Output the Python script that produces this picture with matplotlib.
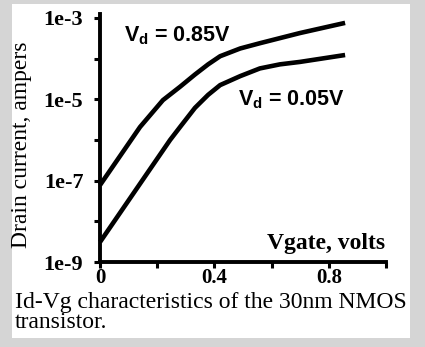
import matplotlib
matplotlib.use("Agg")
import matplotlib.pyplot as plt
from matplotlib.patches import Rectangle
import numpy as np

# Data
vgate_hi = [0.0, 0.140, 0.220, 0.280, 0.332, 0.378, 0.420, 0.490, 0.559, 0.699, 0.857]
id_hi_log = [-7.11, -5.68, -5.02, -4.69, -4.39, -4.14, -3.94, -3.75, -3.62, -3.37, -3.12]
vgate_lo = [0.0, 0.161, 0.245, 0.280, 0.332, 0.378, 0.420, 0.490, 0.559, 0.629, 0.699, 0.857]
id_lo_log = [-8.51, -6.86, -6.00, -5.68, -5.21, -4.89, -4.65, -4.43, -4.24, -4.14, -4.08, -3.91]

ytick_vals = [1e-9, 1e-8, 1e-7, 1e-6, 1e-5, 1e-4, 1e-3]
ytick_labels = ["1e-9", "", "1e-7", "", "1e-5", "", "1e-3"]
xtick_vals = [0.0, 0.2, 0.4, 0.6, 0.8, 1.0]
xtick_labels = ["0", "", "0.4", "", "0.8", ""]

label_hi = r"$\mathbf{V_d}$ = 0.85V"
label_lo = r"$\mathbf{V_d}$ = 0.05V"
caption = "Id-Vg characteristics of the 30nm NMOS\ntransistor."

plt.rcParams["mathtext.fontset"] = "custom"
plt.rcParams["mathtext.bf"] = "Liberation Sans:bold"
plt.rcParams["mathtext.rm"] = "Liberation Sans"

W, H = 425, 347
fig = plt.figure(figsize=(W / 100, H / 100), dpi=100)
fig.patch.set_facecolor("#d5d5d5")
fig.patches.append(Rectangle((12 / W, 1 - 338 / H), (410 - 12) / W, (338 - 4) / H,
                             transform=fig.transFigure, facecolor="white",
                             edgecolor="none", zorder=-5))

ax = fig.add_axes([100 / W, 1 - 262 / H, 286 / W, (262 - 14) / H])
ax.set_zorder(2)
ax.set_facecolor("none")
ax.plot(vgate_hi, 10 ** np.array(id_hi_log), color="black", lw=3.3,
        solid_joinstyle="round", solid_capstyle="butt", clip_on=False)
ax.plot(vgate_lo, 10 ** np.array(id_lo_log), color="black", lw=3.3,
        solid_joinstyle="round", solid_capstyle="butt", clip_on=False)

ax.set_yscale("log")
ax.set_xlim(0, 1.0)
ax.set_ylim(1e-9, 10 ** (-3 + 4 / 40.67))
ax.set_yticks(ytick_vals)
ax.set_yticklabels(ytick_labels)
ax.minorticks_off()
ax.set_xticks(xtick_vals)
ax.set_xticklabels(xtick_labels)

for s in ["top", "right"]:
    ax.spines[s].set_visible(False)
for s in ["left", "bottom"]:
    ax.spines[s].set_linewidth(2.8)

serif = "Liberation Serif"
ax.tick_params(axis="both", direction="out", length=4, width=2.2)
ax.tick_params(axis="y", pad=8)
ax.tick_params(axis="x", pad=0.5)
for lab in ax.get_yticklabels():
    lab.set_fontfamily(serif); lab.set_fontweight("bold"); lab.set_fontsize(16)
for lab in ax.get_xticklabels():
    lab.set_fontfamily(serif); lab.set_fontweight("bold"); lab.set_fontsize(15)

fig.text(22 / W, 1 - 145 / H, "Drain current, ampers", rotation=90, ha="center", va="center",
         fontfamily=serif, fontsize=17)

fig.text(385 / W, 1 - 243 / H, "Vgate, volts", ha="right", va="center",
         fontfamily=serif, fontweight="bold", fontsize=17)
fig.text(124 / W, 1 - 36 / H, label_hi, ha="left", va="center",
         fontfamily="Liberation Sans", fontweight="bold", fontsize=15.5)
fig.text(238 / W, 1 - 100 / H, label_lo, ha="left", va="center",
         fontfamily="Liberation Sans", fontweight="bold", fontsize=15.5)
fig.text(15 / W, 1 - 292 / H, caption, ha="left", va="top",
         fontfamily=serif, fontsize=17, linespacing=0.95)

fig.savefig("out.png", dpi=100, facecolor=fig.get_facecolor())
